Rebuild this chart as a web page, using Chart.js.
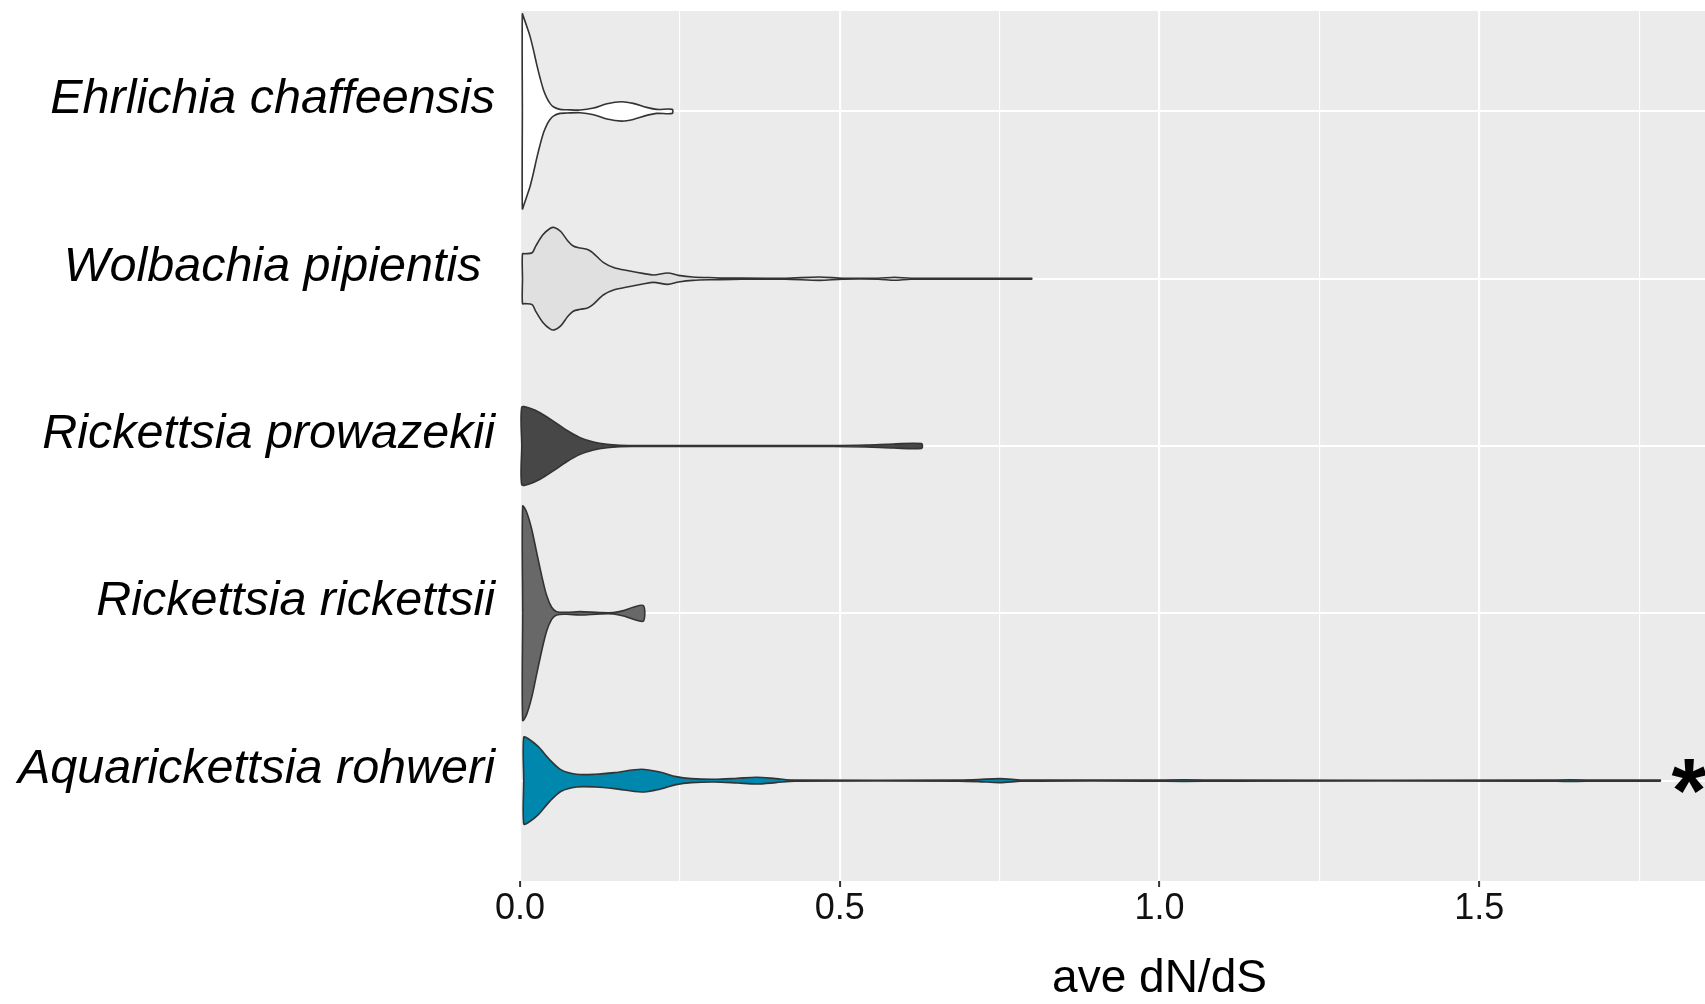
<!DOCTYPE html>
<html>
<head>
<meta charset="utf-8">
<script src="https://cdn.jsdelivr.net/npm/chart.js@4/dist/chart.umd.min.js"></script>
<style>
html, body { margin: 0; padding: 0; background: #ffffff; overflow: hidden; width: 1705px; height: 1004px; }
#wrap { position: absolute; left: 0; top: 0; width: 1810px; height: 1004px; }
</style>
</head>
<body>
<div id="wrap"><canvas id="c" width="1810" height="1004"></canvas></div>
<script>
// ---- Data ----
const categories = ['Ehrlichia chaffeensis', 'Wolbachia pipientis ', 'Rickettsia prowazekii', 'Rickettsia rickettsii', 'Aquarickettsia rohweri'];
const fillColors = ['#FFFFFF', '#E0E0E0', '#474747', '#686868', '#0087AE'];

// ave dN/dS positions along each violin and the violin half-width (in category units)
const ehrlichiaX = [0.0037, 0.0063, 0.0104, 0.0156, 0.0208, 0.0261, 0.0313, 0.0365, 0.0417, 0.0469, 0.0521, 0.0625, 0.0730, 0.0940, 0.1150, 0.1360, 0.1590, 0.1770, 0.1980, 0.2140, 0.2380];
const ehrlichiaHalfWidth = [0.582, 0.556, 0.510, 0.450, 0.371, 0.281, 0.201, 0.131, 0.082, 0.048, 0.028, 0.012, 0.010, 0.008, 0.020, 0.046, 0.058, 0.048, 0.024, 0.012, 0.012];

const wolbachiaX = [0.0039, 0.0078, 0.0190, 0.0246, 0.0358, 0.0469, 0.0536, 0.0637, 0.0749, 0.0832, 0.0944, 0.1056, 0.1140, 0.1307, 0.1474, 0.1698, 0.1920, 0.2090, 0.2310, 0.2480, 0.2700, 0.3040, 0.3320, 0.4150, 0.4680, 0.5050, 0.5600, 0.5860, 0.6110, 0.8000];
const wolbachiaHalfWidth = [0.149, 0.149, 0.155, 0.195, 0.262, 0.300, 0.306, 0.282, 0.225, 0.195, 0.183, 0.175, 0.155, 0.096, 0.066, 0.048, 0.032, 0.022, 0.034, 0.020, 0.010, 0.006, 0.004, 0.003, 0.010, 0.003, 0.003, 0.009, 0.003, 0.003];

const prowazekiiX = [0.0027, 0.0156, 0.0313, 0.0520, 0.0730, 0.0940, 0.1150, 0.1360, 0.1560, 0.1770, 0.4900, 0.5420, 0.5840, 0.6280];
const prowazekiiHalfWidth = [0.231, 0.225, 0.199, 0.149, 0.094, 0.050, 0.024, 0.010, 0.004, 0.003, 0.003, 0.006, 0.012, 0.014];

const rickettsiiX = [0.0042, 0.0104, 0.0182, 0.0260, 0.0339, 0.0417, 0.0495, 0.0573, 0.0730, 0.0940, 0.1250, 0.1460, 0.1620, 0.1770, 0.1930];
const rickettsiiHalfWidth = [0.640, 0.604, 0.504, 0.365, 0.225, 0.106, 0.036, 0.010, 0.006, 0.010, 0.004, 0.004, 0.016, 0.036, 0.046];

const aquarickettsiaX = [0.0058, 0.0136, 0.0286, 0.0466, 0.0644, 0.0883, 0.1180, 0.1480, 0.1900, 0.2200, 0.2440, 0.2680, 0.3040, 0.3400, 0.3700, 0.4000, 0.4300, 0.6870, 0.7170, 0.7500, 0.7830, 0.8070, 0.9800, 1.0380, 1.1000, 1.6000, 1.6420, 1.6900, 1.7830];
const aquarickettsiaHalfWidth = [0.259, 0.249, 0.203, 0.124, 0.064, 0.038, 0.038, 0.048, 0.068, 0.050, 0.024, 0.012, 0.008, 0.014, 0.020, 0.012, 0.003, 0.003, 0.006, 0.012, 0.004, 0.003, 0.003, 0.005, 0.003, 0.003, 0.005, 0.003, 0.003];

const xMajorTicks = [0, 0.5, 1.0, 1.5, 2.0];
const xMinorTicks = [0.25, 0.75, 1.25, 1.75];
const xMin = 0;
const xMax = 2;
const xAxisTitle = 'ave dN/dS';
const annotationText = '*';
const annotationX = 1.828;
const annotationCategory = 'Aquarickettsia rohweri';

// ---- Build ----
const seriesX = [ehrlichiaX, wolbachiaX, prowazekiiX, rickettsiiX, aquarickettsiaX];
const seriesW = [ehrlichiaHalfWidth, wolbachiaHalfWidth, prowazekiiHalfWidth, rickettsiiHalfWidth, aquarickettsiaHalfWidth];
const catPos = i => categories.length - i;

function violinPolygon(xs, hw, c) {
  const pts = [{ x: xs[0], y: c }];
  for (let i = 0; i < xs.length; i++) pts.push({ x: xs[i], y: c + hw[i] });
  for (let i = xs.length - 1; i >= 0; i--) pts.push({ x: xs[i], y: c - hw[i] });
  pts.push({ x: xs[0], y: c });
  return pts;
}

const datasets = categories.map((name, i) => ({
  label: name,
  data: violinPolygon(seriesX[i], seriesW[i], catPos(i)),
  showLine: true,
  fill: 'shape',
  backgroundColor: fillColors[i],
  borderColor: '#333333',
  borderWidth: 1.6,
  pointRadius: 0,
  pointHoverRadius: 0,
  tension: 0.3
}));

const isMajor = v => xMajorTicks.some(m => Math.abs(m - v) < 1e-9);
const noPad = s => { s.paddingTop = 0; s.paddingBottom = 0; s.paddingLeft = 0; s.paddingRight = 0; };

const panelBg = {
  id: 'panelBg',
  beforeDraw(chart) {
    const { ctx, chartArea: a } = chart;
    ctx.save();
    ctx.fillStyle = '#FFFFFF';
    ctx.fillRect(0, 0, chart.width, chart.height);
    ctx.fillStyle = '#EBEBEB';
    ctx.fillRect(a.left, a.top, a.right - a.left, a.bottom - a.top);
    ctx.restore();
  }
};

const annot = {
  id: 'annot',
  afterDatasetsDraw(chart) {
    const { ctx, scales } = chart;
    const px = scales.x.getPixelForValue(annotationX);
    const py = scales.y.getPixelForValue(catPos(categories.indexOf(annotationCategory)));
    ctx.save();
    ctx.font = 'bold 90px "Liberation Sans"';
    ctx.fillStyle = '#000000';
    ctx.textAlign = 'center';
    ctx.textBaseline = 'alphabetic';
    ctx.fillText(annotationText, px, py + 41);
    ctx.restore();
  }
};

new Chart(document.getElementById('c'), {
  type: 'scatter',
  data: { datasets },
  options: {
    responsive: false,
    animation: false,
    devicePixelRatio: 1,
    layout: { padding: { left: 0, right: 11, top: 11, bottom: 0 } },
    plugins: { legend: { display: false }, tooltip: { enabled: false }, filler: { propagate: false } },
    scales: {
      x: {
        type: 'linear',
        min: xMin,
        max: xMax,
        afterBuildTicks: s => { s.ticks = [...xMajorTicks, ...xMinorTicks].sort((a, b) => a - b).map(v => ({ value: v })); },
        afterFit: s => { s.height = 123; noPad(s); },
        ticks: {
          autoSkip: false,
          maxRotation: 0,
          padding: 0,
          color: '#111111',
          font: { family: 'Liberation Sans', size: 36 },
          callback: v => isMajor(v) ? Number(v).toFixed(1) : ''
        },
        grid: {
          color: '#FFFFFF',
          lineWidth: c => (c.tick && isMajor(c.tick.value)) ? 2.2 : 1.1,
          drawTicks: true,
          tickLength: 6,
          tickWidth: 2,
          tickColor: c => (c.tick && isMajor(c.tick.value)) ? '#333333' : 'rgba(0,0,0,0)'
        },
        border: { display: false },
        title: {
          display: true,
          text: xAxisTitle,
          color: '#000000',
          font: { family: 'Liberation Sans', size: 46, lineHeight: 1 },
          padding: { top: 0, bottom: 2 }
        }
      },
      y: {
        type: 'linear',
        min: 0.4,
        max: 5.6,
        afterBuildTicks: s => { s.ticks = categories.map((_, i) => ({ value: catPos(i) })).sort((a, b) => a.value - b.value); },
        afterFit: s => { s.width = 520; noPad(s); },
        ticks: {
          autoSkip: false,
          padding: 25,
          labelOffset: -11.5,
          color: '#000000',
          font: { family: 'Liberation Sans', size: 48.5, style: 'italic' },
          callback: v => categories[categories.length - v]
        },
        grid: { color: '#FFFFFF', lineWidth: 2, drawTicks: false },
        border: { display: false }
      }
    }
  },
  plugins: [panelBg, annot]
});
</script>
</body>
</html>
